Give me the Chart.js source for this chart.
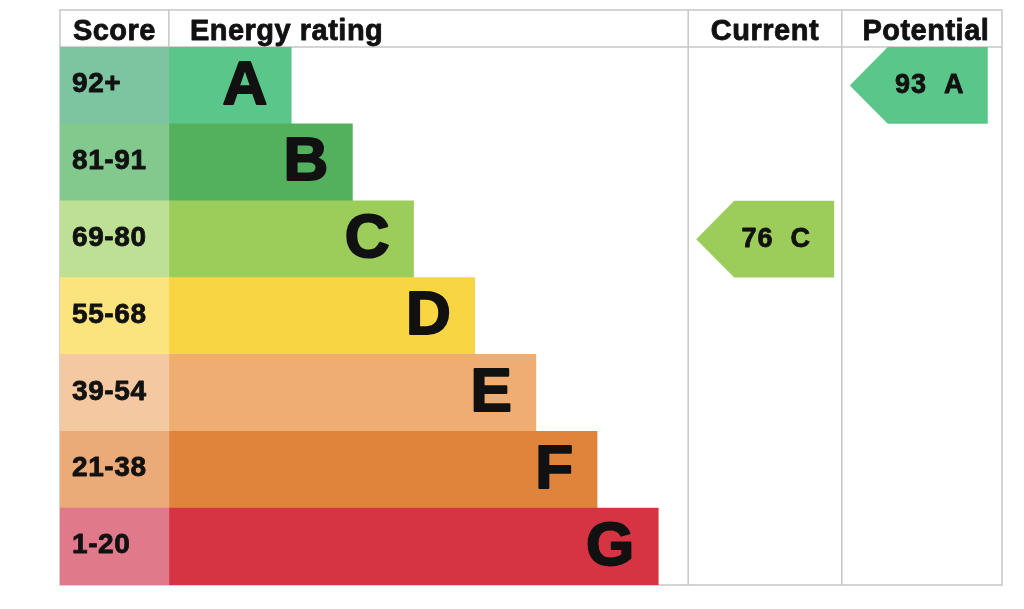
<!DOCTYPE html>
<html>
<head>
<meta charset="utf-8">
<script src="https://cdn.jsdelivr.net/npm/chart.js@4.4.0/dist/chart.umd.min.js"></script>
<style>
  html, body { margin: 0; padding: 0; background: #fff; }
  #wrap { width: 1024px; height: 609px; }
</style>
</head>
<body>
<div id="wrap"><canvas id="epcChart" width="1024" height="609"></canvas></div>
<script>
// bands, score ranges and the rating values
const bands = ['A', 'B', 'C', 'D', 'E', 'F', 'G'];
const scoreRanges = ['92+', '81-91', '69-80', '55-68', '39-54', '21-38', '1-20'];
const bandMinScore = [92, 81, 69, 55, 39, 21, 1];
const barLengths = [2, 3, 4, 5, 6, 7, 8];
const barColors = ['#5bc689', '#53b15e', '#9ccd5a', '#f8d543', '#efad71', '#e0843b', '#d63443'];
const scoreColors = ['#7dc4a0', '#83c98e', '#bee094', '#fbe47d', '#f4c9a2', '#eaab78', '#e07a8a'];
const currentScore = 76;
const potentialScore = 93;

// table layout, in x-scale units
const SCORE_COL = 1.78;
const CURRENT_COL = 10.27;
const POTENTIAL_COL = 12.78;
const X_MAX = 15.4;
const LINE = '#c6c6c6';
const FONT = '"Liberation Sans", Arial, sans-serif';

function bandIndex(score)
{
    return bandMinScore.findIndex(m => score >= m);
}

// bold text with a thin outline so it reads as heavy as the original
function heavyText(ctx, text, x, y, width)
{
    ctx.lineWidth = width;
    ctx.lineJoin = 'round';
    ctx.strokeStyle = ctx.fillStyle;
    ctx.strokeText(text, x, y);
    ctx.fillText(text, x, y);
}

function drawArrow(ctx, colLeft, el, score)
{
    const idx = bandIndex(score);
    const w = 138, notch = 38;
    const tip = colLeft + 8;
    const top = el.y - el.height / 2, bottom = el.y + el.height / 2;
    ctx.fillStyle = barColors[idx];
    ctx.beginPath();
    ctx.moveTo(tip, el.y);
    ctx.lineTo(tip + notch, top);
    ctx.lineTo(tip + w, top);
    ctx.lineTo(tip + w, bottom);
    ctx.lineTo(tip + notch, bottom);
    ctx.closePath();
    ctx.fill();
    ctx.fillStyle = '#111';
    ctx.font = 'bold 27px ' + FONT;
    ctx.letterSpacing = '1px';
    ctx.textAlign = 'center';
    ctx.textBaseline = 'middle';
    heavyText(ctx, score + '  ' + bands[idx], tip + w * 0.58, el.y, 0.8);
}

const epcPlugin = {
    id: 'epc',
    beforeDatasetsDraw(chart)
    {
        const ctx = chart.ctx;
        const area = chart.chartArea;
        const x = chart.scales.x;
        const headTop = area.top - 37;
        const cur = x.getPixelForValue(CURRENT_COL);
        const pot = x.getPixelForValue(POTENTIAL_COL);
        const scoreEnd = x.getPixelForValue(SCORE_COL);
        ctx.save();
        ctx.strokeStyle = LINE;
        ctx.lineWidth = 1.5;
        ctx.strokeRect(area.left, headTop, area.right - area.left, area.bottom - headTop);
        ctx.beginPath();
        ctx.moveTo(area.left, area.top);
        ctx.lineTo(area.right, area.top);
        ctx.moveTo(scoreEnd, headTop);
        ctx.lineTo(scoreEnd, area.top);
        ctx.moveTo(cur, headTop);
        ctx.lineTo(cur, area.bottom);
        ctx.moveTo(pot, headTop);
        ctx.lineTo(pot, area.bottom);
        ctx.stroke();
        ctx.restore();
    },
    afterDatasetsDraw(chart)
    {
        const ctx = chart.ctx;
        const area = chart.chartArea;
        const x = chart.scales.x;
        const bars = chart.getDatasetMeta(1).data;
        const cur = x.getPixelForValue(CURRENT_COL);
        const pot = x.getPixelForValue(POTENTIAL_COL);
        const scoreEnd = x.getPixelForValue(SCORE_COL);
        ctx.save();

        // header
        ctx.fillStyle = '#111';
        ctx.font = 'bold 29px ' + FONT;
        ctx.letterSpacing = '0.5px';
        ctx.textBaseline = 'alphabetic';
        const base = area.top - 7;
        ctx.textAlign = 'center';
        heavyText(ctx, 'Score', (area.left + scoreEnd) / 2, base, 0.8);
        heavyText(ctx, 'Current', (cur + pot) / 2, base, 0.8);
        heavyText(ctx, 'Potential', (pot + area.right) / 2 + 4, base, 0.8);
        ctx.textAlign = 'left';
        heavyText(ctx, 'Energy rating', scoreEnd + 21, base, 0.8);

        // score ranges and band letters
        bars.forEach((el, i) =>
        {
            ctx.fillStyle = '#111';
            ctx.font = 'bold 28px ' + FONT;
            ctx.letterSpacing = '0.6px';
            ctx.textAlign = 'left';
            ctx.textBaseline = 'middle';
            heavyText(ctx, scoreRanges[i], area.left + 12, el.y - 1, 0.8);
            ctx.font = 'bold 62px ' + FONT;
            ctx.letterSpacing = '0px';
            ctx.textAlign = 'right';
            heavyText(ctx, bands[i], el.x - 24, el.y + 1, 2);
        });

        drawArrow(ctx, cur, bars[bandIndex(currentScore)], currentScore);
        drawArrow(ctx, pot, bars[bandIndex(potentialScore)], potentialScore);
        ctx.restore();
    }
};

new Chart(document.getElementById('epcChart'), {
    type: 'bar',
    data: {
        labels: bands,
        datasets: [
            {
                label: 'Score',
                data: bands.map(() => SCORE_COL),
                backgroundColor: scoreColors,
                borderWidth: 0,
                barPercentage: 1,
                categoryPercentage: 1,
            },
            {
                label: 'Energy rating',
                data: barLengths,
                backgroundColor: barColors,
                borderWidth: 0,
                barPercentage: 1,
                categoryPercentage: 1,
            },
        ]
    },
    plugins: [epcPlugin],
    options: {
        indexAxis: 'y',
        responsive: false,
        animation: false,
        devicePixelRatio: 1,
        layout: {
            padding: { top: 47, bottom: 24, left: 60, right: 22 },
        },
        plugins: {
            legend: { display: false },
            tooltip: { enabled: false },
        },
        scales: {
            x: { type: 'linear', min: 0, max: X_MAX, stacked: true, display: false },
            y: { type: 'category', stacked: true, display: false },
        }
    }
});
</script>
</body>
</html>
